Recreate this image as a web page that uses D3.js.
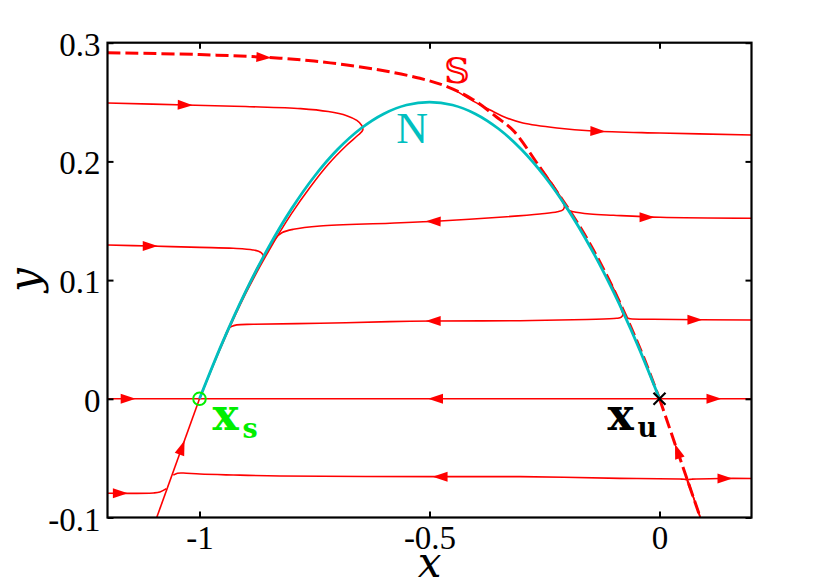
<!DOCTYPE html>
<html><head><meta charset="utf-8">
<script src="https://cdn.jsdelivr.net/npm/d3@7"></script>
<style>body{margin:0;background:#fff}</style>
</head><body>
<svg id="c" width="830" height="587"></svg>
<script>
// ---- tick data ----
const xTicks = [-1, -0.5, 0];
const xTickLabels = ["-1", "-0.5", "0"];
const yTicks = [-0.1, 0, 0.1, 0.2, 0.3];
const yTickLabels = ["-0.1", "0", "0.1", "0.2", "0.3"];

// ---- curves ([x, y]) ----
const nullclineN = [[-1,0],[-0.95,0.0475],[-0.9,0.09],[-0.85,0.1275],[-0.8,0.16],[-0.75,0.1875],[-0.7,0.21],[-0.65,0.2275],[-0.6,0.24],[-0.55,0.2475],[-0.5,0.25],[-0.45,0.2475],[-0.4,0.24],[-0.35,0.2275],[-0.3,0.21],[-0.25,0.1875],[-0.2,0.16],[-0.15,0.1275],[-0.1,0.09],[-0.05,0.0475],[0,0]];
const separatrixUpper = [[-1.2,0.2916],[-1.0,0.290],[-0.825,0.287],[-0.716,0.283],[-0.608,0.277],[-0.521,0.270],[-0.462,0.263],[-0.405,0.252],[-0.353,0.237],[-0.318,0.226],[-0.26,0.195],[-0.21,0.167],[-0.166,0.1405],[-0.114,0.1035],[-0.071,0.068],[-0.035,0.0355],[0,0]];
const separatrixLower = [[0,0],[0.0887,-0.1]];

const traj025 = [[-1.2,0.2492],[-1.03,0.2475],[-0.9,0.2462],[-0.78,0.2445],[-0.72,0.242],[-0.68,0.2385],[-0.658,0.2345],[-0.647,0.2302],[-0.645,0.2265],[-0.655,0.2222],[-0.68,0.2136],[-0.72,0.1976],[-0.76,0.178],[-0.80,0.156],[-0.85,0.1243],[-0.90,0.0883],[-0.95,0.0465],[-1.0,0.0]];
const trajTopRight = [[-0.44,0.259],[-0.405,0.2508],[-0.368,0.2433],[-0.332,0.2366],[-0.297,0.2324],[-0.223,0.2282],[-0.145,0.2256],[0.001,0.2239],[0.2,0.2223]];
const traj013 = [[-1.2,0.1296],[-1.1076,0.1287],[-0.999,0.1276],[-0.927,0.1268],[-0.884,0.1254],[-0.866,0.1232],[-0.861,0.1200],[-0.875,0.110],[-0.9,0.0905],[-0.95,0.0478],[-1,0]];
const traj015Left = [[-0.26,0.195],[-0.225,0.176],[-0.207,0.1635],[-0.209,0.1595],[-0.222,0.1575],[-0.26,0.1557],[-0.332,0.1534],[-0.477,0.1498],[-0.586,0.1479],[-0.738,0.1456],[-0.796,0.1428],[-0.821,0.1399],[-0.834,0.1355],[-0.86,0.119]];
const traj015Right = [[-0.26,0.195],[-0.225,0.176],[-0.207,0.1635],[-0.199,0.1592],[-0.1874,0.1576],[-0.151,0.1557],[-0.1,0.1546],[0.001,0.1529],[0.2,0.1521]];
const traj007Left = [[-0.114,0.1035],[-0.09,0.084],[-0.079,0.0715],[-0.083,0.0688],[-0.093,0.0678],[-0.158,0.0668],[-0.303,0.0658],[-0.492,0.0655],[-0.586,0.0650],[-0.738,0.0636],[-0.883,0.0628],[-0.919,0.0623],[-0.931,0.0608],[-0.937,0.0590],[-0.95,0.0470]];
const traj007Right = [[-0.114,0.1035],[-0.09,0.084],[-0.079,0.0715],[-0.072,0.0683],[-0.064,0.0675],[-0.014,0.0670],[0.2,0.0664]];
const trajZero = [[-1.2,0],[0.2,0]];
const trajNeg007Left = [[0.0887,-0.1],[0.072,-0.081],[0.0607,-0.0686],[0.054,-0.0678],[0.0446,-0.0676],[-0.0859,-0.0670],[-0.303,-0.0656],[-0.477,-0.0656],[-0.825,-0.065],[-0.9265,-0.0642],[-0.999,-0.0634],[-1.035,-0.0625],[-1.048,-0.0627],[-1.057,-0.0643]];
const trajNeg007Right = [[0.0887,-0.1],[0.072,-0.081],[0.0607,-0.0686],[0.066,-0.0679],[0.0707,-0.0677],[0.1315,-0.0671],[0.2,-0.0671]];
const trajNeg008 = [[-1.2,-0.0796],[-1.1,-0.0793],[-1.086,-0.0785],[-1.072,-0.0757]];
const trajRising = [[-1.093,-0.1],[-1.0,0]];

const solidTrajectories = [traj025, trajTopRight, traj013, traj015Left, traj015Right, traj007Left, traj007Right, trajZero, trajNeg007Left, trajNeg007Right, trajNeg008, trajRising];

// arrows: position and direction (data units)
const arrows = [
  [-0.860,0.2876,1,-0.02],[-1.031,0.2475,1,-0.01],[-0.134,0.2254,1,-0.01],
  [-1.107,0.1287,1,0],[-0.492,0.1495,-1,0.01],[-0.027,0.1530,1,0],
  [-0.492,0.0655,-1,0],[0.077,0.0667,1,0],
  [-1.155,0,1,0],[-0.487,0,-1,0],[0.1185,0,1,0],
  [-0.477,-0.0656,-1,0],[0.1424,-0.0671,1,0],[-1.172,-0.0796,1,0],
  [-1.038,-0.041,0.093,0.1],[0.039,-0.044,-0.0887,0.1]
];
const stablePoint = [-1, 0];
const unstablePoint = [0, 0];

// ---- drawing ----
const svg = d3.select("#c");
svg.append("rect").attr("width",830).attr("height",587).attr("fill","#fff");
const L = 107.5, R = 751.5, T = 42.7, B = 517.5;
const x = d3.scaleLinear().domain([-1.2, 0.2]).range([L, R]);
const y = d3.scaleLinear().domain([-0.1, 0.3]).range([B, T]);
const serif = "'Liberation Serif','Times New Roman',serif";
const mathItalic = "'DejaVu Serif',serif";

svg.append("defs").append("clipPath").attr("id","clip")
  .append("rect").attr("x",L).attr("y",T).attr("width",R-L).attr("height",B-T);

const line = d3.line().x(d=>x(d[0])).y(d=>y(d[1])).curve(d3.curveCatmullRom.alpha(0.5));
const plot = svg.append("g").attr("clip-path","url(#clip)");

plot.selectAll("path.traj").data(solidTrajectories).join("path").attr("class","traj")
  .attr("d", line).attr("fill","none").attr("stroke","#ff0000").attr("stroke-width",1.6);

plot.selectAll("path.sep").data([separatrixUpper, separatrixLower]).join("path").attr("class","sep")
  .attr("d", line).attr("fill","none").attr("stroke","#ff0000").attr("stroke-width",3)
  .attr("stroke-dasharray","13,5");

plot.append("path").datum(nullclineN).attr("d", line).attr("fill","none")
  .attr("stroke","#00bfbf").attr("stroke-width",2.8);

plot.selectAll("path.arrow").data(arrows).join("path").attr("class","arrow")
  .attr("d","M7.5,0L-7.5,-5L-7.5,5Z").attr("fill","#ff0000")
  .attr("transform", d=>{
    const px = x(d[0]), py = y(d[1]);
    const ang = Math.atan2(y(d[1]+d[3]*0.01)-py, x(d[0]+d[2]*0.01)-px)*180/Math.PI;
    return `translate(${px},${py}) rotate(${ang})`;
  });

// markers
svg.append("circle").attr("cx",x(stablePoint[0])).attr("cy",y(stablePoint[1])).attr("r",6.3)
  .attr("fill","none").attr("stroke","#00ee00").attr("stroke-width",2);
const ux = x(unstablePoint[0]), uy = y(unstablePoint[1]);
svg.append("path").attr("d",`M${ux-6},${uy-6}L${ux+6},${uy+6}M${ux-6},${uy+6}L${ux+6},${uy-6}`)
  .attr("stroke","#000").attr("stroke-width",2.2);

// axes
const gx = svg.append("g").attr("transform",`translate(0,${B})`)
  .call(d3.axisBottom(x).tickValues(xTicks).tickFormat((d,i)=>xTickLabels[i]).tickSizeInner(-6).tickSizeOuter(0).tickPadding(8));
const gxt = svg.append("g").attr("transform",`translate(0,${T})`)
  .call(d3.axisTop(x).tickValues(xTicks).tickFormat("").tickSizeInner(-6).tickSizeOuter(0));
const gy = svg.append("g").attr("transform",`translate(${L},0)`)
  .call(d3.axisLeft(y).tickValues(yTicks).tickFormat((d,i)=>yTickLabels[i]).tickSizeInner(-6).tickSizeOuter(0).tickPadding(7));
const gyr = svg.append("g").attr("transform",`translate(${R},0)`)
  .call(d3.axisRight(y).tickValues(yTicks).tickFormat("").tickSizeInner(-6).tickSizeOuter(0));
[gx,gxt,gy,gyr].forEach(g=>{
  g.select(".domain").remove();
  g.selectAll(".tick line").attr("stroke","#000").attr("stroke-width",2);
  g.selectAll("text").attr("font-family",serif).attr("font-size",33).attr("fill","#000");
});
gy.selectAll("text").attr("dy","0.38em");
svg.append("rect").attr("x",L).attr("y",T).attr("width",R-L).attr("height",B-T)
  .attr("fill","none").attr("stroke","#000").attr("stroke-width",2.2);

// axis titles
svg.append("text").attr("x",(L+R)/2).attr("y",577).attr("text-anchor","middle")
  .attr("font-family",mathItalic).attr("font-style","italic").attr("font-size",42).text("x");
svg.append("text").attr("transform",`translate(39,${(T+B)/2}) rotate(-90)`).attr("text-anchor","middle")
  .attr("font-family",mathItalic).attr("font-style","italic").attr("font-size",42).text("y");

// curve labels
svg.append("text").attr("x",x(-0.538)).attr("y",y(0.2155)).attr("text-anchor","middle")
  .attr("font-family",serif).attr("font-size",44).attr("fill","#00bfbf").text("N");
svg.append("text").attr("x",x(-0.44)).attr("y",y(0.266)).attr("text-anchor","middle")
  .attr("font-family","'DejaVu Serif','DejaVu Sans',serif").attr("font-size",36).attr("fill","#ff0000").text("\u{1D54A}");

const bold = "'DejaVu Serif',serif";
const sx = x(stablePoint[0]), sy = y(stablePoint[1]);
svg.append("text").attr("x",sx+13).attr("y",sy+31).attr("font-family",bold).attr("font-weight","bold")
  .attr("font-size",44).attr("fill","#00ee00").text("x");
svg.append("text").attr("x",sx+43).attr("y",sy+39).attr("font-family",bold).attr("font-weight","bold")
  .attr("font-size",27).attr("fill","#00ee00").text("s");
svg.append("text").attr("x",ux-52).attr("y",uy+31).attr("font-family",bold).attr("font-weight","bold")
  .attr("font-size",44).attr("fill","#000").text("x");
svg.append("text").attr("x",ux-22).attr("y",uy+38).attr("font-family",bold).attr("font-weight","bold")
  .attr("font-size",27).attr("fill","#000").text("u");
</script>
</body></html>
